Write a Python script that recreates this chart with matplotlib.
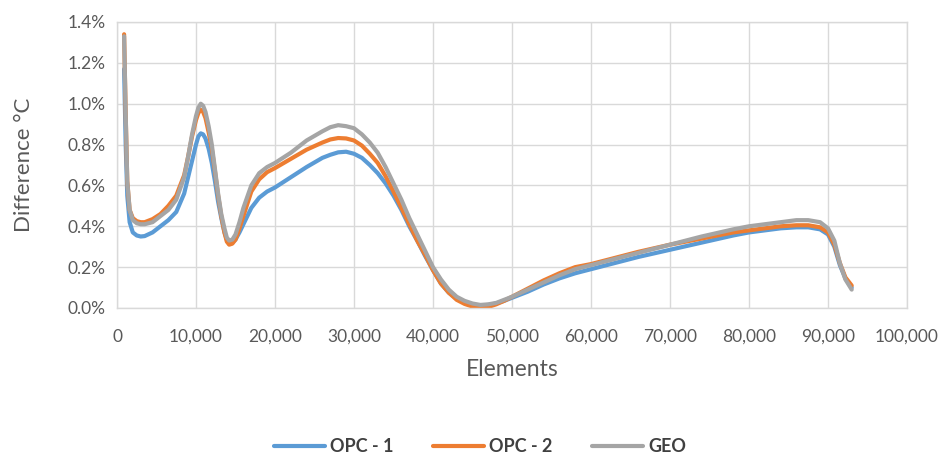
import matplotlib
matplotlib.use("Agg")
import matplotlib.pyplot as plt
from matplotlib.ticker import FuncFormatter, MultipleLocator

plt.rcParams['font.family'] = ['Lato', 'DejaVu Sans']

# element index along the section
elements = [900, 1100, 1300, 1600, 2000, 2500, 3000, 3500, 4500, 5500, 6500, 7500,
            8500, 9000, 9500, 10000, 10300, 10600, 10900, 11200, 11600, 12000, 12400,
            12800, 13200, 13600, 13900, 14200, 14600, 15000, 15500, 16000,
            17000, 18000, 19000, 20000, 22000, 24000, 26000, 27000, 28000, 29000, 30000,
            31000, 32000, 33000, 34000, 35000, 36000, 37000, 38000, 39000, 40000, 41000,
            42000, 43000, 44000, 45000, 46000, 47000, 48000, 49000, 50000, 52000, 54000,
            56000, 58000, 60000, 63000, 66000, 70000, 74000, 78000, 80000, 82000, 84000,
            86000, 87500, 89000, 90000, 90800, 91500, 92200, 93000]

# difference in percent
opc1 = [1.17, 0.80, 0.55, 0.42, 0.37, 0.355, 0.35, 0.352, 0.37, 0.40, 0.43, 0.47,
        0.56, 0.64, 0.72, 0.80, 0.84, 0.855, 0.85, 0.83, 0.78, 0.71, 0.62,
        0.52, 0.44, 0.37, 0.335, 0.32, 0.32, 0.335, 0.37, 0.41,
        0.49, 0.54, 0.57, 0.59, 0.64, 0.69, 0.735, 0.75, 0.762, 0.765, 0.755,
        0.735, 0.70, 0.66, 0.61, 0.55, 0.48, 0.40, 0.33, 0.255, 0.185, 0.12,
        0.075, 0.045, 0.025, 0.015, 0.012, 0.015, 0.022, 0.035, 0.05, 0.08, 0.115,
        0.145, 0.17, 0.19, 0.22, 0.25, 0.285, 0.32, 0.355, 0.37, 0.38, 0.39,
        0.395, 0.395, 0.385, 0.36, 0.30, 0.21, 0.145, 0.10]

opc2 = [1.34, 0.95, 0.62, 0.48, 0.44, 0.425, 0.42, 0.42, 0.435, 0.46, 0.50, 0.55,
        0.65, 0.74, 0.84, 0.92, 0.955, 0.97, 0.96, 0.93, 0.86, 0.78, 0.67,
        0.55, 0.45, 0.37, 0.325, 0.31, 0.315, 0.335, 0.39, 0.45,
        0.57, 0.63, 0.665, 0.685, 0.73, 0.775, 0.81, 0.825, 0.832, 0.83, 0.82,
        0.795, 0.755, 0.71, 0.645, 0.57, 0.49, 0.41, 0.33, 0.26, 0.185, 0.12,
        0.075, 0.04, 0.02, 0.007, 0.0, 0.005, 0.018, 0.035, 0.055, 0.095, 0.135,
        0.17, 0.20, 0.215, 0.245, 0.275, 0.31, 0.34, 0.37, 0.38, 0.39, 0.40,
        0.405, 0.405, 0.395, 0.37, 0.31, 0.22, 0.15, 0.11]

geo = [1.33, 0.95, 0.62, 0.48, 0.43, 0.415, 0.41, 0.41, 0.42, 0.45, 0.48, 0.53,
       0.64, 0.74, 0.85, 0.94, 0.98, 1.00, 0.99, 0.96, 0.89, 0.80, 0.68,
       0.56, 0.46, 0.39, 0.345, 0.33, 0.335, 0.36, 0.42, 0.49,
       0.60, 0.66, 0.69, 0.71, 0.76, 0.82, 0.865, 0.885, 0.895, 0.89, 0.88,
       0.85, 0.81, 0.76, 0.69, 0.61, 0.53, 0.44, 0.36, 0.28, 0.20, 0.14,
       0.09, 0.055, 0.035, 0.022, 0.015, 0.018, 0.025, 0.04, 0.055, 0.09, 0.125,
       0.16, 0.19, 0.21, 0.24, 0.27, 0.31, 0.35, 0.385, 0.40, 0.41, 0.42,
       0.43, 0.43, 0.42, 0.39, 0.33, 0.22, 0.14, 0.09]

series = [("OPC - 1", opc1, "#5B9BD5"),
          ("OPC - 2", opc2, "#ED7D31"),
          ("GEO", geo, "#A5A5A5")]

fig = plt.figure(figsize=(9.47, 4.55), dpi=100)
ax = fig.add_axes([117 / 947, 1 - 308 / 455, 790 / 947, 286 / 455])

for name, vals, col in series:
    ax.plot(elements, vals, color=col, lw=3.0, label=name,
            solid_capstyle='round', solid_joinstyle='round')

ax.set_xlim(0, 100000)
ax.set_ylim(0, 1.4)
ax.xaxis.set_major_locator(MultipleLocator(10000))
ax.yaxis.set_major_locator(MultipleLocator(0.2))
ax.xaxis.set_major_formatter(FuncFormatter(lambda v, p: f"{int(v):,}"))
ax.yaxis.set_major_formatter(FuncFormatter(lambda v, p: f"{v:.1f}%"))
ax.grid(True, color="#D9D9D9", lw=1)
ax.set_axisbelow(True)
for s in ax.spines.values():
    s.set_color("#D9D9D9")
    s.set_linewidth(1)
ax.tick_params(length=0, labelsize=12.5, labelcolor="#595959")
ax.tick_params(axis='x', pad=15)
ax.tick_params(axis='y', pad=8)

ax.set_xlabel("Elements", fontsize=16.5, color="#595959", labelpad=10)
ax.set_ylabel("Difference °C", fontsize=16, color="#595959", labelpad=24)

fig.legend(loc='center', bbox_to_anchor=(480 / 947, 1 - 447 / 455), ncol=3,
           frameon=False, handlelength=2.8, columnspacing=2.2, handletextpad=0.3,
           prop={'size': 13, 'weight': 'bold'}, labelcolor="#404040")

fig.savefig("out.png", dpi=100)
